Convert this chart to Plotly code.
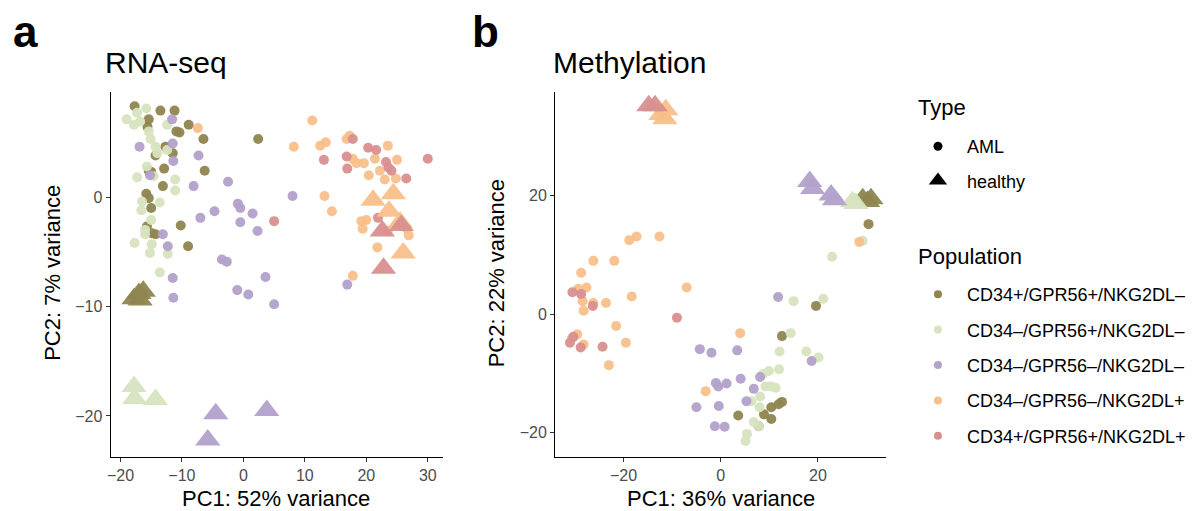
import plotly.graph_objects as go

populations = ["CD34+/GPR56+/NKG2DL–", "CD34–/GPR56+/NKG2DL–", "CD34–/GPR56–/NKG2DL–",
               "CD34–/GPR56–/NKG2DL+", "CD34+/GPR56+/NKG2DL+"]
pop_colors = ["#8F8550", "#D7E4BF", "#B2A1CB", "#F9BF8B", "#D98F8F"]
types = ["AML", "healthy"]

# ---- Panel a: RNA-seq ----
rna_p1_aml_x = [-17.7, -13.5, -11.2, -15.4, -15.6, -8.9, -10.9, -10.4, -6.5, 2.4, -12.7, -11.5, -14.3, -15.4, -15.0, -12.9, -6.3, -13.1, -15.8, -15.4, -15.0, -10.2, -15.7, -14.3, -9.0, -14.9]
rna_p1_aml_y = [8.3, 7.9, 7.9, 7.1, 6.4, 6.6, 6.0, 5.9, 5.3, 5.3, 4.6, 4.0, 3.8, 2.4, 2.3, 2.6, 2.4, 1.0, 0.3, -0.1, -1.0, -2.6, -2.7, -3.4, -4.5, -3.3]
rna_p1_h_x = [-17.8, -17.0, -16.3, -16.8]
rna_p1_h_y = [-9.3, -8.8, -8.6, -9.4]

rna_p2_aml_x = [-19.0, -17.3, -15.8, -17.8, -15.4, -15.1, -12.4, -14.3, -12.4, -15.7, -14.6, -17.3, -11.1, -11.1, -16.5, -16.6, -13.6, -15.0, -16.0, -16.0, -17.7, -14.9, -15.2, -12.3, -13.6, -16.8, -14.0]
rna_p2_aml_y = [7.1, 7.7, 8.1, 6.6, 6.0, 5.3, 6.6, 4.6, 4.3, 2.8, 1.9, 1.8, 1.6, 0.6, -0.4, -1.2, -0.5, -2.1, -3.0, -3.4, -4.2, -4.3, -5.1, -5.2, -6.9, 6.9, 4.0]
rna_p2_h_x = [-17.8, -17.7, -14.3]
rna_p2_h_y = [-17.3, -18.4, -18.5]

rna_p3_aml_x = [-11.6, -16.9, -11.5, -11.4, -7.3, -15.2, -2.5, -8.1, 8.0, -0.9, -0.5, -4.7, 1.5, -7.0, -0.5, 2.3, -13.1, -12.3, -3.5, -2.7, 3.6, -11.5, 16.9, -1.0, 0.8, -11.4, 5.0]
rna_p3_aml_y = [7.1, 4.6, 4.9, 3.3, 3.8, 2.0, 1.4, 1.0, 0.1, -0.6, -1.0, -1.3, -1.5, -1.9, -2.3, -3.1, -3.4, -4.5, -5.7, -5.9, -7.3, -7.4, -8.0, -8.5, -8.9, -9.2, -9.8]
rna_p3_h_x = [-4.5, -5.8, 3.8]
rna_p3_h_y = [-19.8, -22.2, -19.5]

rna_p4_aml_x = [-7.4, 11.2, 8.2, 12.5, 13.4, 16.8, 17.3, 23.5, 17.8, 18.4, 19.6, 21.4, 25.0, 20.4, 22.2, 23.0, 24.8, 13.2, 14.4, 19.2, 20.0, 19.4, 23.5, 26.6, 26.9, 21.8, 17.8]
rna_p4_aml_y = [6.3, 7.0, 4.6, 4.7, 5.0, 5.3, 5.6, 4.7, 3.5, 3.1, 3.1, 3.5, 3.4, 2.0, 2.4, 1.6, 1.7, 0.1, -1.3, -2.2, -2.1, -2.9, -3.1, -2.9, -3.5, -4.6, -7.2]
rna_p4_h_x = [21.1, 24.4, 23.7, 26.0, 25.5]
rna_p4_h_y = [-0.3, 0.3, -1.3, -5.1, -2.3]

rna_p5_aml_x = [17.8, 20.3, 21.6, 13.1, 16.8, 16.9, 23.2, 23.6, 24.1, 30.0, 26.5, 5.0, 21.9]
rna_p5_aml_y = [5.3, 4.5, 4.3, 3.4, 3.7, 2.6, 3.2, 2.7, 2.4, 3.5, 1.7, -2.2, -1.9]
rna_p5_h_x = [22.6, 25.7, 22.8]
rna_p5_h_y = [-3.1, -2.6, -6.5]

# ---- Panel b: Methylation ----
met_p1_aml_x = [30.4, 19.6, 12.6, 3.6, 8.9, 10.4, 11.9, 12.6, 10.4, 7.8]
met_p1_aml_y = [15.2, 1.4, -3.7, -17.1, -16.9, -15.7, -15.2, -14.8, -17.7, -18.9]
met_p1_h_x = [29.2, 30.9, 30.2]
met_p1_h_y = [19.5, 19.5, 19.0]

met_p2_aml_x = [29.2, 22.9, 15.0, 21.1, 14.4, 12.1, 17.6, 20.1, 12.0, 8.7, 9.9, 9.2, 10.3, 11.3, 6.3, 8.1, 8.0, 6.8, 7.8, 5.4, 5.1]
met_p2_aml_y = [12.4, 9.7, 2.2, 2.6, -3.2, -6.3, -6.3, -7.3, -9.3, -10.1, -9.6, -12.2, -12.2, -12.4, -14.7, -13.9, -15.7, -18.2, -18.9, -20.2, -21.4]
met_p2_h_x = [27.8, 27.1]
met_p2_h_y = [18.7, 19.0]

met_p3_aml_x = [11.8, -4.3, -1.9, 3.4, 18.7, -1.0, -0.5, 1.2, 4.1, 8.1, 6.8, 5.3, -5.0, -0.4, -1.2, 0.8]
met_p3_aml_y = [2.9, -5.9, -6.5, -6.1, -7.9, -11.6, -12.2, -11.7, -10.9, -10.6, -12.6, -14.7, -15.7, -15.5, -18.9, -19.0]
met_p3_h_x = [18.3, 18.9, 22.7, 23.4]
met_p3_h_y = [22.4, 21.2, 20.1, 19.3]

met_p4_aml_x = [28.5, -18.8, -17.3, -12.6, -26.2, -21.9, -28.7, -7.0, -29.3, -27.6, -28.4, -26.2, -23.6, -28.2, -18.3, -21.5, -29.5, -30.6, -28.2, -19.5, -23.0, 4.0, -3.1]
met_p4_aml_y = [12.2, 12.5, 13.1, 13.1, 9.0, 9.0, 7.0, 4.5, 4.3, 4.5, 2.2, 1.9, 1.9, 0.6, 3.0, -2.0, -3.4, -4.1, -5.1, -4.8, -8.6, -3.2, -13.0]
met_p4_h_x = [-11.3, -12.3, -11.5]
met_p4_h_y = [34.5, 33.7, 33.0]

met_p5_aml_x = [-30.5, -28.7, -26.3, -9.0, -31.0, -30.3, -28.8, -24.3]
met_p5_aml_y = [3.7, 3.4, 1.4, -0.6, -4.8, -3.8, -5.6, -5.5]
met_p5_h_x = [-14.8, -13.5]
met_p5_h_y = [35.2, 35.2]

rna = [
    (rna_p1_aml_x, rna_p1_aml_y, rna_p1_h_x, rna_p1_h_y),
    (rna_p2_aml_x, rna_p2_aml_y, rna_p2_h_x, rna_p2_h_y),
    (rna_p3_aml_x, rna_p3_aml_y, rna_p3_h_x, rna_p3_h_y),
    (rna_p4_aml_x, rna_p4_aml_y, rna_p4_h_x, rna_p4_h_y),
    (rna_p5_aml_x, rna_p5_aml_y, rna_p5_h_x, rna_p5_h_y),
]
met = [
    (met_p1_aml_x, met_p1_aml_y, met_p1_h_x, met_p1_h_y),
    (met_p2_aml_x, met_p2_aml_y, met_p2_h_x, met_p2_h_y),
    (met_p3_aml_x, met_p3_aml_y, met_p3_h_x, met_p3_h_y),
    (met_p4_aml_x, met_p4_aml_y, met_p4_h_x, met_p4_h_y),
    (met_p5_aml_x, met_p5_aml_y, met_p5_h_x, met_p5_h_y),
]

CIRCLE = 10
TRI = 22
OPAC = 0.95

fig = go.Figure()

for data, xa, ya in [(rna, "x", "y"), (met, "x2", "y2")]:
    for kind in ("aml", "h"):
        for i, (ax, ay, hx, hy) in enumerate(data):
            xs, ys = (ax, ay) if kind == "aml" else (hx, hy)
            fig.add_trace(go.Scatter(
                x=xs, y=ys, mode="markers", xaxis=xa, yaxis=ya, showlegend=False,
                marker=dict(color=pop_colors[i], opacity=OPAC,
                            size=CIRCLE if kind == "aml" else TRI,
                            symbol="circle" if kind == "aml" else "triangle-up",
                            line=dict(width=0)),
                hoverinfo="skip"))

# Legend: Type
for t, sym, sz in [("AML", "circle", 9), ("healthy", "triangle-up", 16)]:
    fig.add_trace(go.Scatter(x=[None], y=[None], mode="markers", name=t, legend="legend",
                             legendgroup=t,
                             marker=dict(color="black", symbol=sym, size=sz)))
# Legend: Population
for p, c in zip(populations, pop_colors):
    fig.add_trace(go.Scatter(x=[None], y=[None], mode="markers", name=p, legend="legend2",
                             legendgroup=p,
                             marker=dict(color=c, symbol="circle", size=8)))

FONT = "Liberation Sans, Arial, sans-serif"
W, H = 1197, 511

def px_x(p):
    return p / W

def px_y(p):
    return 1 - p / H

axis_common = dict(showgrid=False, zeroline=False, showline=True, linecolor="black", linewidth=1.2,
                   ticks="outside", ticklen=4, tickwidth=1.2, tickcolor="#333333",
                   tickfont=dict(family=FONT, size=16, color="#4D4D4D"))

fig.update_layout(
    width=W, height=H, margin=dict(l=0, r=0, t=0, b=0),
    paper_bgcolor="white", plot_bgcolor="white",
    font=dict(family=FONT, color="black"),
    xaxis=dict(domain=[px_x(107), px_x(440)], range=[-21.6, 32.4], tickvals=[-20, -10, 0, 10, 20, 30], anchor="y", **axis_common),
    yaxis=dict(domain=[px_y(457), px_y(92)], range=[-23.75, 9.6], tickvals=[-20, -10, 0], anchor="x", **axis_common),
    xaxis2=dict(domain=[px_x(553), px_x(885)], range=[-34.05, 34.0], tickvals=[-20, 0, 20], anchor="y2", **axis_common),
    yaxis2=dict(domain=[px_y(457), px_y(92)], range=[-24.1, 37.5], tickvals=[-20, 0, 20], anchor="x2", **axis_common),
    legend=dict(x=px_x(908), y=px_y(128), xanchor="left", yanchor="top",
                font=dict(size=18, family=FONT), itemwidth=48,
                tracegroupgap=8, itemsizing="trace", bgcolor="rgba(0,0,0,0)"),
    legend2=dict(x=px_x(908), y=px_y(276), xanchor="left", yanchor="top",
                 font=dict(size=18, family=FONT), itemwidth=48,
                 tracegroupgap=9, itemsizing="trace", bgcolor="rgba(0,0,0,0)"),
)

annots = [
    dict(text="<b>a</b>", x=px_x(7), y=px_y(31), font=dict(size=44), xanchor="left"),
    dict(text="<b>b</b>", x=px_x(468), y=px_y(31), font=dict(size=44), xanchor="left"),
    dict(text="RNA-seq", x=px_x(99), y=px_y(62), font=dict(size=30), xanchor="left"),
    dict(text="Methylation", x=px_x(549), y=px_y(62), font=dict(size=30), xanchor="left"),
    dict(text="PC1: 52% variance", x=px_x(273), y=px_y(498), font=dict(size=22), xanchor="center"),
    dict(text="PC1: 36% variance", x=px_x(719), y=px_y(498), font=dict(size=22), xanchor="center"),
    dict(text="PC2: 7% variance", x=px_x(48), y=px_y(273), font=dict(size=22), xanchor="center", textangle=-90),
    dict(text="PC2: 22% variance", x=px_x(494), y=px_y(273), font=dict(size=22), xanchor="center", textangle=-90),
    dict(text="Type", x=px_x(915), y=px_y(107), font=dict(size=22), xanchor="left"),
    dict(text="Population", x=px_x(915), y=px_y(256), font=dict(size=22), xanchor="left"),
]
for a in annots:
    a.setdefault("yanchor", "middle")
    a["font"] = dict(family=FONT, color="black", **a["font"])
    fig.add_annotation(xref="paper", yref="paper", showarrow=False, **a)

fig.write_html("out.html")
